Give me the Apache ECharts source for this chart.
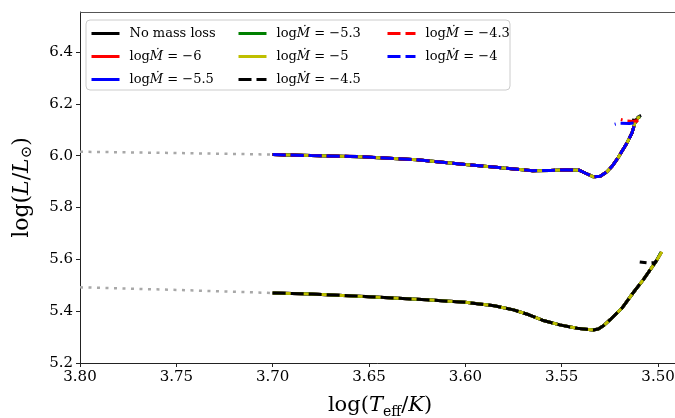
<!DOCTYPE html>
<html>
<head>
<meta charset="utf-8">
<script src="https://cdn.jsdelivr.net/npm/echarts@6/dist/echarts.min.js"></script>
<style>
  html, body { margin: 0; padding: 0; background: #fff; }
  #hr-chart { width: 675px; height: 418px; }
</style>
</head>
<body>
<div id="hr-chart"></div>
<script>
// Ticks of the axes
const xTicks = [3.80, 3.75, 3.70, 3.65, 3.60, 3.55, 3.50];
const yTicks = [5.2, 5.4, 5.6, 5.8, 6.0, 6.2, 6.4];

// Series names (order of drawing) and colours
const seriesNames = [
    'No mass loss', 'logṀ = −6', 'logṀ = −5.5', 'logṀ = −5.3',
    'logṀ = −5', 'logṀ = −4.5', 'logṀ = −4.3', 'logṀ = −4'
];
const seriesColors = ['#000000', '#ff0000', '#0000ff', '#008000', '#bfbf00', '#000000', '#ff0000', '#0000ff'];
const seriesDashed = [false, false, false, false, false, true, true, true];
// legend columns, filled column by column like in the original
const legendColumns = [
    ['No mass loss', 'logṀ = −6', 'logṀ = −5.5'],
    ['logṀ = −5.3', 'logṀ = −5', 'logṀ = −4.5'],
    ['logṀ = −4.3', 'logṀ = −4']
];

// Upper track (shared by all the series)
const upperTeff = [3.700, 3.680, 3.655, 3.625, 3.600, 3.580, 3.565, 3.556, 3.548, 3.541, 3.537, 3.5335, 3.530, 3.5265, 3.5235, 3.5208, 3.5185, 3.5161, 3.5135, 3.512];
const upperLum  = [6.004, 6.000, 5.996, 5.984, 5.966, 5.952, 5.942, 5.943, 5.945, 5.944, 5.930, 5.918, 5.920, 5.938, 5.962, 5.991, 6.020, 6.049, 6.088, 6.126];

// Lower track (not computed for -4.3 and -4)
const lowerTeff = [3.700, 3.680, 3.650, 3.620, 3.600, 3.585, 3.575, 3.567, 3.560, 3.551, 3.542, 3.5337, 3.531, 3.528, 3.525, 3.5187, 3.513, 3.5078, 3.5031];
const lowerLum  = [5.470, 5.466, 5.456, 5.444, 5.434, 5.421, 5.405, 5.386, 5.365, 5.347, 5.334, 5.327, 5.331, 5.346, 5.366, 5.412, 5.470, 5.520, 5.570];

// Ends of the tracks, one per series
const upperTails = [
    [[3.5104, 6.149], [3.5088, 6.155]],
    [[3.5104, 6.146], [3.5092, 6.151]],
    [[3.5104, 6.146], [3.5092, 6.151]],
    [[3.5104, 6.146], [3.5092, 6.151]],
    [[3.5104, 6.146], [3.5094, 6.150]],
    [[3.5110, 6.138], [3.5125, 6.136], [3.5135, 6.137]],
    [[3.5105, 6.136], [3.5130, 6.132], [3.5165, 6.134], [3.5193, 6.139]],
    [[3.5115, 6.125], [3.5150, 6.124], [3.5205, 6.125], [3.5225, 6.121]]
];
const lowerTails = [
    [[3.5006, 5.597], [3.4982, 5.628]],
    [[3.5006, 5.597], [3.4984, 5.627]],
    [[3.5006, 5.597], [3.4983, 5.628]],
    [[3.5006, 5.597], [3.4985, 5.626]],
    [[3.5006, 5.597], [3.4980, 5.629]],
    [[3.5006, 5.597], [3.5016, 5.588], [3.5050, 5.586], [3.5095, 5.590]],
    null,
    null
];

// Grey dotted extrapolation to the left
const extraUpperTeff = [3.80, 3.75, 3.70];
const extraUpperLum = [6.015, 6.010, 6.004];
const extraLowerTeff = [3.80, 3.75, 3.70];
const extraLowerLum = [5.492, 5.482, 5.470];

const serif = 'DejaVu Serif';

function pares(xs, ys) {
    return xs.map((x, i) => [x, ys[i]]);
}

const series = seriesNames.map((name, i) => {
    let data = pares(upperTeff, upperLum).concat(upperTails[i]);
    if (lowerTails[i]) {
        data = data.concat([[null, null]], pares(lowerTeff, lowerLum), lowerTails[i]);
    }
    return {
        name: name,
        type: 'line',
        data: data,
        showSymbol: false,
        symbol: 'none',
        connectNulls: false,
        lineStyle: {
            color: seriesColors[i],
            width: 3,
            type: seriesDashed[i] ? [13, 5] : 'solid'
        },
        itemStyle: { color: seriesColors[i] }
    };
});

[pares(extraUpperTeff, extraUpperLum), pares(extraLowerTeff, extraLowerLum)].forEach(d => {
    series.push({
        type: 'line',
        data: d,
        showSymbol: false,
        symbol: 'none',
        z: 1,
        lineStyle: { color: '#a8a8a8', width: 2.5, type: [3, 5.5] }
    });
});

// one vertical legend per column
const columnLeft = [90, 237, 386];
const legends = legendColumns.map((col, k) => ({
    data: col,
    orient: 'vertical',
    left: columnLeft[k],
    top: 27,
    padding: 0,
    itemGap: 10,
    itemWidth: 28,
    itemHeight: 12.5,
    z: 5,
    itemStyle: { opacity: 0 },
    lineStyle: { width: 3 },
    formatter: function (name) {
        return name.replace('Ṁ', '{i|Ṁ}');
    },
    textStyle: {
        fontFamily: serif,
        fontSize: 13,
        color: '#000',
        lineHeight: 12.5,
        padding: [0, 0, 0, 5],
        rich: {
            i: { fontFamily: serif, fontSize: 13, fontStyle: 'italic', lineHeight: 12.5 }
        }
    }
}));

const option = {
    animation: false,
    grid: {
        left: 80, top: 12, width: 600, height: 351,
        outerBoundsMode: 'none', containLabel: false
    },
    graphic: [
        {
            type: 'line',
            z: 2,
            shape: { x1: 80, y1: 12.5, x2: 675, y2: 12.5 },
            style: { stroke: '#555', lineWidth: 1.2 }
        },
        {
            type: 'rect',
            z: 3,
            shape: { x: 86, y: 20, width: 424, height: 70, r: 4 },
            style: { fill: '#fff', stroke: '#cccccc', lineWidth: 1 }
        }
    ],
    legend: legends,
    xAxis: {
        type: 'value',
        inverse: true,
        min: 3.4886,
        max: 3.80,
        name: 'log({i|T}{sub|eff}/{i|K})',
        nameLocation: 'middle',
        nameGap: 30,
        nameTextStyle: {
            fontFamily: serif, fontSize: 21, color: '#000', lineHeight: 26,
            rich: {
                i: { fontFamily: serif, fontSize: 21, fontStyle: 'italic', lineHeight: 26 },
                sub: { fontFamily: serif, fontSize: 14, lineHeight: 14, verticalAlign: 'bottom' }
            }
        },
        splitLine: { show: false },
        axisLine: { lineStyle: { color: '#222', width: 1 } },
        axisTick: { length: 4, lineStyle: { color: '#222' }, customValues: xTicks },
        axisLabel: {
            fontFamily: serif, fontSize: 15, color: '#000', margin: 7,
            customValues: xTicks,
            formatter: v => v.toFixed(2)
        }
    },
    yAxis: {
        type: 'value',
        min: 5.2,
        max: 6.554,
        name: 'log({i|L}/{i|L}{sub|⊙})',
        nameLocation: 'middle',
        nameGap: 45,
        nameTextStyle: {
            fontFamily: serif, fontSize: 22, color: '#000', lineHeight: 26,
            rich: {
                i: { fontFamily: serif, fontSize: 22, fontStyle: 'italic', lineHeight: 26 },
                sub: { fontFamily: serif, fontSize: 15, lineHeight: 15, verticalAlign: 'bottom' }
            }
        },
        splitLine: { show: false },
        axisLine: { show: true, lineStyle: { color: '#222', width: 1 } },
        axisTick: { show: true, length: 4, lineStyle: { color: '#222' }, customValues: yTicks },
        axisLabel: {
            fontFamily: serif, fontSize: 15, color: '#000', margin: 7,
            customValues: yTicks,
            formatter: v => v.toFixed(1)
        }
    },
    series: series
};

const chart = echarts.init(document.getElementById('hr-chart'));
chart.setOption(option);
</script>
</body>
</html>
